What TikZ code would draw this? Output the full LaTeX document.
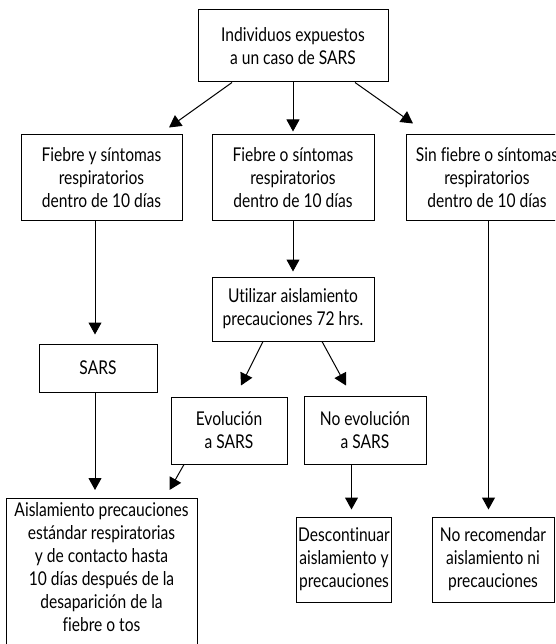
\documentclass[tikz,border=0pt]{standalone}
\usepackage{fontspec}
\setmainfont{Lato}[FakeStretch=0.82,Ligatures=NoCommon]
\usetikzlibrary{arrows.meta,calc}

\begin{document}
\begin{tikzpicture}[x=1pt,y=-1pt,>={Triangle[length=12pt,width=13pt]},
                    line width=1pt,
                    main node/.style={rectangle,draw,align=center,inner sep=2pt,
                      font=\fontsize{19}{23}\selectfont}]
  \clip (0,0) rectangle (555,644);
  \node[main node,minimum width=190pt,minimum height=72pt] (expuestos) at (293,46) {Individuos expuestos\\a un caso de SARS};
  \node[main node,minimum width=161pt,minimum height=85pt] (fiebreY) at (101.5,177.5) {Fiebre y síntomas\\respiratorios\\dentro de 10 días};
  \node[main node,minimum width=162pt,minimum height=85pt] (fiebreO) at (293,177.5) {Fiebre o síntomas\\respiratorios\\dentro de 10 días};
  \node[main node,minimum width=162pt,minimum height=85pt] (sinFiebre) at (487,177.5) {Sin fiebre o síntomas\\respiratorios\\dentro de 10 días};
  \node[main node,minimum width=118pt,minimum height=48pt] (sars) at (98,368) {SARS};
  \node[main node,minimum width=162pt,minimum height=64pt] (utilizar) at (293,309) {Utilizar aislamiento\\precauciones 72 hrs.};
  \node[main node,minimum width=116pt,minimum height=67pt] (evol) at (229,430.5) {Evolución\\a SARS};
  \node[main node,minimum width=122pt,minimum height=68pt] (noEvol) at (365,430) {No evolución\\a SARS};
  \node[main node,minimum width=191pt,anchor=north,inner ysep=4pt] (aisl) at (101.5,498) {Aislamiento precauciones\\estándar respiratorias\\y de contacto hasta\\10 días después de la\\desaparición de la\\fiebre o tos\\ \mbox{}};
  \node[main node,minimum width=92pt,minimum height=85pt] (descont) at (344,559.5) {Descontinuar\\aislamiento y\\precauciones};
  \node[main node,minimum width=122pt,minimum height=85pt] (noRecom) at (493,559.5) {No recomendar\\aislamiento ni\\precauciones};
  \path[->]
    ($(expuestos.south)+(-61,0)$) edge ($(fiebreY.north)+(67.5,-7)$)
    (expuestos) edge ($(fiebreO.north)+(0,-3)$)
    ($(expuestos.south)+(62,0)$) edge ($(sinFiebre.north)+(-74,-11)$)
    ($(fiebreY.south)+(-6.5,0)$) edge ($(sars.north)+(-3,-9)$)
    (fiebreO) edge ($(utilizar.north)+(0,-5)$)
    ($(utilizar.south)+(-30,0)$) edge ($(evol.north)+(12,-11)$)
    ($(utilizar.south)+(29,0)$) edge ($(noEvol.north)+(-19,-10)$)
    ($(sars.south)+(-3,0)$) edge ($(aisl.north)+(-6.5,-8)$)
    ($(evol.south)+(-45,0)$) edge ($(aisl.north east)+(-28,-8)$)
    ($(noEvol.south)+(-13.5,0)$) edge ($(descont.north)+(7.5,-7)$)
    ($(sinFiebre.south)+(1.5,0)$) edge ($(noRecom.north)+(-4.5,-7)$);
\end{tikzpicture}
\end{document}
